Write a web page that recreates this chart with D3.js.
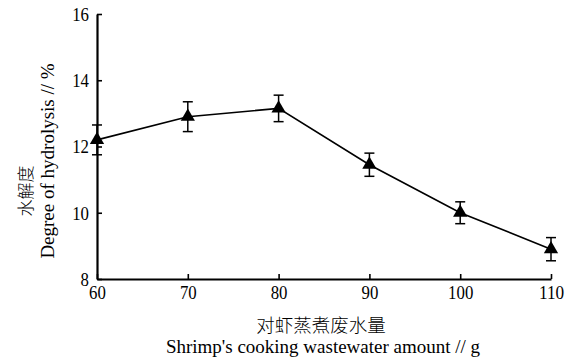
<!DOCTYPE html>
<html>
<head>
<meta charset="utf-8">
<script src="https://cdn.jsdelivr.net/npm/d3@7"></script>
<style>
  html, body { margin: 0; padding: 0; background: #fff; }
  svg { display: block; }
  text.serif { font-family: "Liberation Serif", "Times New Roman", serif; }
  text.cjk { font-family: "Noto Sans CJK SC", sans-serif; font-weight: 300; }
</style>
</head>
<body>
<div id="chart"></div>
<script>
// 数据
var amounts = [60, 70, 80, 90, 100, 110];
var hydrolysis = [12.2, 12.9, 13.15, 11.45, 10.0, 8.9];
var errors = [0.45, 0.45, 0.4, 0.35, 0.33, 0.35];
var xTicks = [60, 70, 80, 90, 100, 110];
var yTicks = [8, 10, 12, 14, 16];

var width = 572, height = 360;

var svg = d3.select("#chart").append("svg")
  .attr("width", width)
  .attr("height", height);

// 比例尺
var x = d3.scaleLinear().domain([60, 110]).range([97, 551]);
var y = d3.scaleLinear().domain([8, 16]).range([279, 14]);

// 坐标轴
var xAxis = svg.append("g")
  .attr("transform", `translate(0,${y(8)})`)
  .call(d3.axisBottom(x).tickValues(xTicks).tickSizeInner(-5).tickSizeOuter(0));

var yAxis = svg.append("g")
  .attr("transform", `translate(${x(60)},0)`)
  .call(d3.axisLeft(y).tickValues(yTicks).tickSizeInner(-5).tickSizeOuter(0).tickPadding(8));

[xAxis, yAxis].forEach(function(g) {
  g.attr("font-family", null);
  g.select(".domain").attr("stroke", "#000").attr("stroke-width", 2.2);
  g.selectAll(".tick line").attr("stroke", "#000").attr("stroke-width", 1.6);
  g.selectAll(".tick text")
    .attr("class", "serif")
    .attr("fill", "#000")
    .attr("font-family", "Liberation Serif")
    .style("font-size", "19px")
    .attr("textLength", d => String(d).length * 8.4)
    .attr("lengthAdjust", "spacingAndGlyphs");
});
xAxis.selectAll(".tick text").attr("y", 20).attr("dy", 0)
  .attr("x", d => -String(d).length * 4.2)
  .attr("text-anchor", "start");
yAxis.selectAll(".tick text").attr("dy", "0.34em");

// 折线
var line = d3.line()
  .x((d, i) => x(amounts[i]))
  .y(d => y(d));

svg.append("path")
  .datum(hydrolysis)
  .attr("fill", "none")
  .attr("stroke", "#000")
  .attr("stroke-width", 1.6)
  .attr("d", line);

// 误差线
var capW = 5;
var eb = svg.append("g").attr("stroke", "#000").attr("stroke-width", 1.5);
hydrolysis.forEach(function(v, i) {
  var cx = x(amounts[i]);
  var top = y(v + errors[i]), bot = y(v - errors[i]);
  eb.append("line").attr("x1", cx).attr("x2", cx).attr("y1", top).attr("y2", bot);
  eb.append("line").attr("x1", cx - capW).attr("x2", cx + capW).attr("y1", top).attr("y2", top);
  eb.append("line").attr("x1", cx - capW).attr("x2", cx + capW).attr("y1", bot).attr("y2", bot);
});

// 三角形标记
svg.append("g")
  .selectAll("path")
  .data(hydrolysis)
  .join("path")
  .attr("transform", (d, i) => `translate(${x(amounts[i])},${y(d)})`)
  .attr("d", d3.symbol().type(d3.symbolTriangle).size(88))
  .attr("fill", "#000");

// 轴标题
svg.append("text")
  .attr("class", "cjk")
  .attr("x", 321).attr("y", 332)
  .attr("text-anchor", "middle")
  .style("font-size", "18.5px")
  .text("对虾蒸煮废水量");

svg.append("text")
  .attr("class", "serif")
  .attr("font-family", "Liberation Serif")
  .attr("x", 323).attr("y", 353)
  .attr("text-anchor", "middle")
  .style("font-size", "19px")
  .text("Shrimp's cooking wastewater amount // g");

svg.append("text")
  .attr("class", "cjk")
  .attr("transform", "translate(32,191) rotate(-90)")
  .attr("text-anchor", "middle")
  .style("font-size", "17px")
  .text("水解度");

svg.append("text")
  .attr("class", "serif")
  .attr("font-family", "Liberation Serif")
  .attr("transform", "translate(54,161) rotate(-90)")
  .attr("text-anchor", "middle")
  .style("font-size", "19px")
  .text("Degree of hydrolysis // %");
</script>
</body>
</html>
